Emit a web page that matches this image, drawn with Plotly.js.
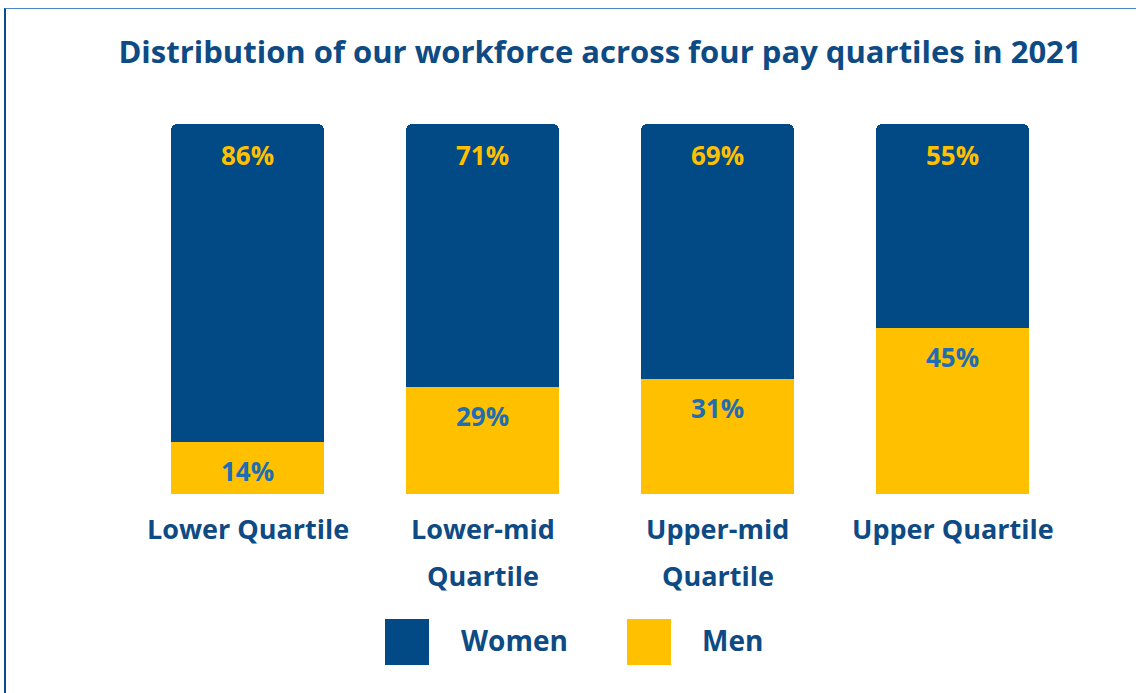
<!DOCTYPE html>
<html><head><meta charset="utf-8">
<script src="https://cdn.plot.ly/plotly-3.0.1.min.js"></script>
<style>
html,body{margin:0;padding:0;background:#fff;overflow:hidden;}
#chart{width:1136px;height:693px;}
#frame{position:absolute;left:4px;top:8px;right:0;bottom:0;border-left:2px solid #0b4a8a;border-top:1px solid #4a86c4;pointer-events:none;}
</style></head><body>
<div id="chart"></div><div id="frame"></div>
<script>
const categories = ['Lower Quartile', 'Lower-mid Quartile', 'Upper-mid Quartile', 'Upper Quartile'];
const tickLine1 = ['Lower Quartile', 'Lower-mid', 'Upper-mid', 'Upper Quartile'];
const tickLine2 = ['', 'Quartile', 'Quartile', ''];
const seriesNames = ['Women', 'Men'];
const women = [86, 71, 69, 55];
const men = [14, 29, 31, 45];
const titleText = 'Distribution of our workforce across four pay quartiles in 2021';

const BLUE = '#024a86';
const GOLD = '#ffc000';
const LABEL_BLUE = '#1f6db3';
const TEXT_BLUE = '#0e4a84';
const FONT = '"Open Sans", Lato, sans-serif';

const W = 1136, H = 693;
const M = {l: 130, r: 66, t: 124, b: 199};
const pw = W - M.l - M.r, ph = H - M.t - M.b;
const pxX = x => (x - M.l) / pw;
const pxY = y => (H - M.b - y) / ph;

const traces = [
  {type: 'bar', name: seriesNames[1], x: categories, y: men, marker: {color: GOLD}, hoverinfo: 'skip'},
  {type: 'bar', name: seriesNames[0], x: categories, y: women, marker: {color: BLUE}, hoverinfo: 'skip'}
];

const annotations = [];
categories.forEach((c, i) => {
  annotations.push({xref: 'x', yref: 'y', x: c, y: men[i] + women[i], yanchor: 'middle', yshift: -31,
    text: women[i] + '%', showarrow: false, font: {family: FONT, size: 26, color: GOLD, weight: 700}});
  annotations.push({xref: 'x', yref: 'y', x: c, y: men[i], yanchor: 'middle', yshift: -29,
    text: men[i] + '%', showarrow: false, font: {family: FONT, size: 26, color: LABEL_BLUE, weight: 700}});
  annotations.push({xref: 'x', yref: 'y', x: c, y: 0, yanchor: 'middle', yshift: -34,
    text: tickLine1[i], showarrow: false, font: {family: FONT, size: 27, color: TEXT_BLUE, weight: 700}});
  if (tickLine2[i]) annotations.push({xref: 'x', yref: 'y', x: c, y: 0, yanchor: 'middle', yshift: -81,
    text: tickLine2[i], showarrow: false, font: {family: FONT, size: 27, color: TEXT_BLUE, weight: 700}});
});

// custom legend (large swatches)
const legendItems = [
  {name: seriesNames[0], color: BLUE, x0: 385, textX: 459},
  {name: seriesNames[1], color: GOLD, x0: 627, textX: 700}
];
const shapes = [];
legendItems.forEach(it => {
  shapes.push({type: 'rect', xref: 'paper', yref: 'paper', x0: pxX(it.x0), x1: pxX(it.x0 + 44),
    y0: pxY(665), y1: pxY(619), fillcolor: it.color, line: {width: 0}});
  annotations.push({xref: 'paper', yref: 'paper', x: pxX(it.textX), y: pxY(640), xanchor: 'left', yanchor: 'middle',
    text: it.name, showarrow: false, font: {family: FONT, size: 28, color: TEXT_BLUE, weight: 700}});
});

const layout = {
  width: W, height: H,
  margin: M,
  paper_bgcolor: '#fff', plot_bgcolor: '#fff',
  barmode: 'stack', bargap: 0.35, barcornerradius: 6,
  showlegend: false,
  title: {text: titleText, x: 0.5, xref: 'paper', xanchor: 'center', y: 1 - 52 / H, yanchor: 'middle',
    font: {family: FONT, size: 31, color: TEXT_BLUE, weight: 700}},
  xaxis: {type: 'category', range: [-0.5, 3.5], showticklabels: false, showgrid: false, zeroline: false, showline: false, ticks: ''},
  yaxis: {range: [0, 100], visible: false},
  annotations: annotations,
  shapes: shapes
};

Plotly.newPlot('chart', traces, layout, {displayModeBar: false, staticPlot: true});
</script>
</body></html>
